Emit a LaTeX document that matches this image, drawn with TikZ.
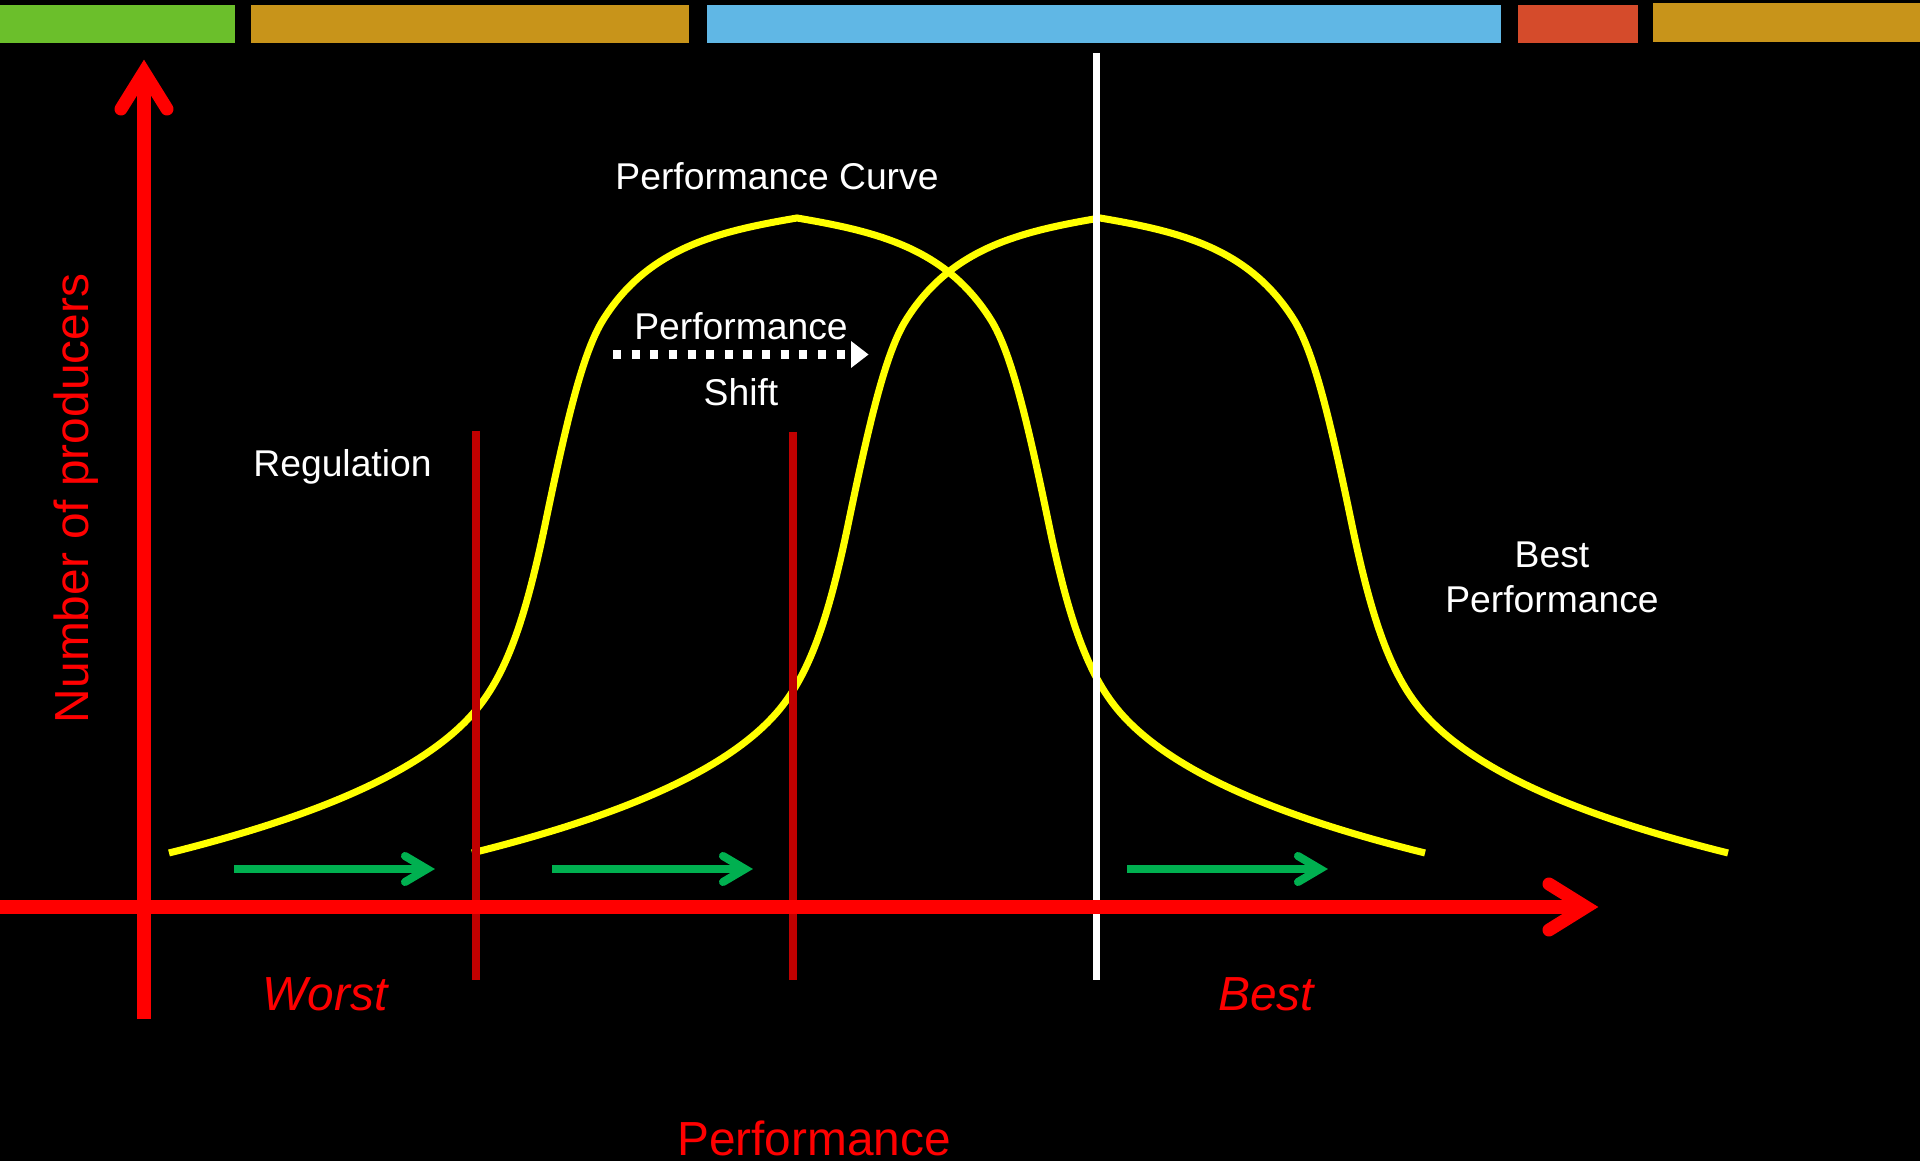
\documentclass[tikz,border=0pt]{standalone}
\usepackage{fontspec}
\setmainfont{Liberation Sans}
\begin{document}
\begin{tikzpicture}[x=0.01cm,y=-0.01cm,
  axisline/.style={draw=axisred,line width=3.7pt},
  axishead/.style={draw=axisred,line width=3.7pt,line cap=round,line join=miter},
  bell/.style={draw=bellyellow,line width=2pt},
  limitline/.style={draw=limitred,line width=2pt},
  bestline/.style={draw=white,line width=2.2pt},
  gainarrow/.style={draw=gaingreen,line width=2.3pt},
  gainhead/.style={draw=gaingreen,line width=2.3pt,line cap=round,line join=miter},
  shiftline/.style={draw=white,line width=2.6pt,dash pattern=on 2.3pt off 3pt},
  bigred/.style={text=axisred,inner sep=0pt,anchor=base,font=\fontsize{13.6}{16}\selectfont},
  whitelabel/.style={text=white,inner sep=0pt,anchor=base,font=\fontsize{10.6}{12.8}\selectfont},
  bellcurve/.pic={
    \draw[bell] (169,853) .. controls (279,825.5) and (416,782) .. (476,710)
      .. controls (506,674) and (525,621) .. (545,525)
      .. controls (567,419) and (583,352) .. (603,320)
      .. controls (648,248) and (717,231.6) .. (797,218)
      .. controls (877,231.6) and (946,248) .. (991,320)
      .. controls (1011,352) and (1027,419) .. (1049,525)
      .. controls (1069,621) and (1088,674) .. (1118,710)
      .. controls (1178,782) and (1315,825.5) .. (1425,853);
  }
]
\definecolor{axisred}{HTML}{FF0000}
\definecolor{limitred}{HTML}{C00000}
\definecolor{bellyellow}{HTML}{FFFF00}
\definecolor{gaingreen}{HTML}{00B050}
\definecolor{bargreen}{HTML}{6BBF2B}
\definecolor{barbrown}{HTML}{C8941A}
\definecolor{barblue}{HTML}{60B7E5}
\definecolor{barred}{HTML}{D54B2B}

\useasboundingbox (0,0) rectangle (1920,1161);
\fill[black] (0,0) rectangle (1920,1161);

% top colour bars
\fill[bargreen] (0,5) rectangle (235,43);
\fill[barbrown] (251,5) rectangle (689,43);
\fill[barblue] (707,5) rectangle (1501,43);
\fill[barred] (1518,5) rectangle (1638,43);
\fill[barbrown] (1653,3) rectangle (1920,42);

% bell curves
\pic at (0,0) {bellcurve};
\pic at (303,0) {bellcurve};

% vertical markers
\coordinate (r1top) at (476,431); \coordinate (r1bot) at (476,980);
\coordinate (r2top) at (793,432); \coordinate (r2bot) at (793,980);
\coordinate (wtop) at (1096.5,53); \coordinate (wbot) at (1096.5,980);
\draw[limitline] (r1top) -- (r1bot);
\draw[limitline] (r2top) -- (r2bot);
\draw[bestline] (wtop) -- (wbot);

% axes
\coordinate (xstart) at (0,907); \coordinate (xtip) at (1586,907);
\coordinate (ystart) at (144,1019); \coordinate (ytip) at (144,72);
\draw[axisline] (xstart) -- (xtip);
\draw[axishead] (1549,884) -- (xtip) -- (1549,930);
\draw[axisline] (ystart) -- (ytip);
\draw[axishead] (121,109) -- (ytip) -- (167,109);

% green arrows
\foreach \gx/\nm in {0/ga,318/gb,893/gc}{
  \coordinate (\nm s) at (234+\gx,869);
  \coordinate (\nm t) at (427+\gx,869);
  \draw[gainarrow] (\nm s) -- (\nm t);
  \draw[gainhead] (405+\gx,856) -- (\nm t) -- (405+\gx,882);
}

% performance shift arrow
\coordinate (shs) at (613,354.5); \coordinate (she) at (846,354.5);
\draw[shiftline] (shs) -- (she);
\fill[white] (851,341) -- (868.5,354.5) -- (851,368) -- cycle;

% labels
\node[bigred,rotate=90] (ylab) at (88,498.5) {Number of producers};
\node[bigred] (xlab) at (814,1155) {Performance};
\node[bigred] (worst) at (325,1011) {\itshape Worst};
\node[bigred] (best) at (1266,1011) {\itshape Best};
\node[whitelabel] (curve) at (777,190) {Performance Curve};
\node[whitelabel] (shift1) at (741,340) {Performance};
\node[whitelabel] (shift2) at (741,406) {Shift};
\node[whitelabel] (reg) at (342.5,477) {Regulation};
\node[whitelabel] (bp1) at (1552,568) {Best};
\node[whitelabel] (bp2) at (1552,613) {Performance};
\end{tikzpicture}
\end{document}
